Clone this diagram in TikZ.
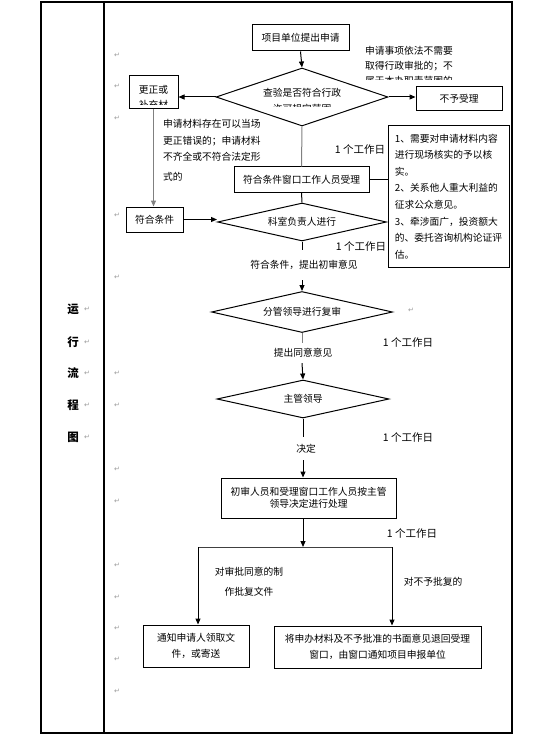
\documentclass[tikz,border=0pt]{standalone}
\usepackage{fontspec}
\setmainfont{Noto Sans CJK SC}
\newfontfamily\djv{DejaVu Sans}
\usetikzlibrary{shapes.geometric,arrows.meta}
\begin{document}
\begin{tikzpicture}[x=1pt,y=-1pt,
  every node/.style={font=\fontsize{9.75}{15}\selectfont},
  box/.style={draw, line width=1pt, inner sep=0pt, align=center},
  dia/.style={draw, diamond, aspect=3, line width=1pt, inner sep=0pt, align=center},
  txt/.style={inner sep=0pt, align=center},
  lab/.style={inner sep=0pt, font=\fontsize{10.5}{12}\selectfont},
  colchar/.style={inner sep=0pt, font=\fontsize{11.5}{12}\selectfont\bfseries},
  arr/.style={line width=1pt, -{Triangle[length=6pt,width=5pt]}},
  con/.style={line width=1pt},
  gcon/.style={line width=1pt, draw=gray},
  ret/.style={inner sep=0pt, text=gray!80, font=\djv\fontsize{7}{7}\selectfont},
]
\useasboundingbox (0,0) rectangle (554,738);

% table frame
\draw[line width=1.2pt] (41,2) rectangle (512,733);
\draw[line width=1.2pt] (104,2) -- (104,733);

% left column label
\node[colchar] (c1) at (73,309) {运};
\node[colchar] (c2) at (73,342) {行};
\node[colchar] (c3) at (73,373) {流};
\node[colchar] (c4) at (73,405) {程};
\node[colchar] (c5) at (73,437) {图};
\foreach \yy/\nm in {309/r1,342/r2,373/r3,405/r4,437/r5} \node[ret] (\nm) at (87,\yy) {↵};

% paragraph marks
\foreach \yy [count=\i] in {55,86,118,215,277,373,405,469,501,565,597,628,659,691}
  \node[ret] (p\i) at (117,\yy) {↵};
\node[ret] (pq) at (411,310) {↵};

% boxes and diamonds
\node[box, minimum width=97pt, minimum height=26pt] (b1) at (300.5,38) {项目单位提出申请};
\node[dia, minimum width=172pt, minimum height=58pt] (d1) at (302,97) {};
\begin{scope}
  \clip (220,78) rectangle (385,107);
  \node[txt, font=\fontsize{9.75}{16}\selectfont] (d1t) at (302,101) {查验是否符合行政\\许可规定范围};
\end{scope}

\node[box, minimum width=49pt, minimum height=33pt] (b2) at (153.5,92.5) {};
\begin{scope}
  \clip (130,77) rectangle (177,104.5);
  \node[txt, font=\fontsize{9.75}{15}\selectfont] (b2t) at (153.5,97.5) {更正或\\补充材};
\end{scope}

\node[box, minimum width=86pt, minimum height=24pt] (b3) at (459,99) {不予受理};

\begin{scope}
  \clip (360,38) rectangle (480,80);
  \node[txt, align=left, anchor=west, font=\fontsize{9.75}{15}\selectfont] (t1) at (365,66) {申请事项依法不需要\\取得行政审批的；不\\属于本办职责范围的};
\end{scope}

\node[box, minimum width=57pt, minimum height=25pt] (b4) at (154.5,219.5) {符合条件};
\node[txt, align=left, anchor=west, font=\fontsize{9.75}{16.5}\selectfont] (t2) at (163,150.5) {申请材料存在可以当场\\更正错误的；申请材料\\不齐全或不符合法定形\\[3.5pt]式的};

\node[box, minimum width=135pt, minimum height=25pt] (b5) at (301.5,179.5) {符合条件窗口工作人员受理};
\node[lab] (L1) at (360,150) {1 个工作日};

\node[box, minimum width=121pt, minimum height=141pt, align=left, font=\fontsize{9.75}{16.6}\selectfont] (b6) at (448.5,196.5)
  {1、需要对申请材料内容\\进行现场核实的予以核\\实。\\2、关系他人重大利益的\\征求公众意见。\\3、牵涉面广，投资额大\\的、委托咨询机构论证评\\估。};

\node[dia, minimum width=169pt, minimum height=38pt] (d2) at (302,222) {科室负责人进行};
\node[lab] (L2) at (361,246) {1 个工作日};
\node[txt, minimum height=30pt] (t3) at (304,265) {符合条件，提出初审意见};

\node[dia, minimum width=181pt, minimum height=41pt] (d3) at (302,312) {分管领导进行复审};
\node[txt, minimum height=20pt] (t4) at (303,353) {提出同意意见};
\node[lab] (L3) at (408,342) {1 个工作日};

\node[dia, minimum width=172pt, minimum height=38pt] (d4) at (303,399) {主管领导};
\node[txt, minimum height=23pt] (t5) at (306,448.5) {决定};
\node[lab] (L4) at (408,437) {1 个工作日};

\node[box, minimum width=175pt, minimum height=40pt, font=\fontsize{9.75}{12.5}\selectfont] (b7) at (308.5,498) {初审人员和受理窗口工作人员按主管\\领导决定进行处理};
\node[lab] (L5) at (412,533) {1 个工作日};

\coordinate (sm) at (303,547);
\coordinate (sl) at (198,547);
\coordinate (sr) at (392,547);

\node[txt, font=\fontsize{9.75}{20}\selectfont] (t6) at (249,582) {对审批同意的制\\作批复文件};
\node[txt] (t7) at (433,582) {对不予批复的};

\node[box, minimum width=106pt, minimum height=42pt, font=\fontsize{9.75}{16}\selectfont] (b8) at (196,646) {通知申请人领取文\\件，或寄送};
\node[box, minimum width=207pt, minimum height=42pt, font=\fontsize{9.75}{16}\selectfont] (b9) at (377.5,647) {将申办材料及不予批准的书面意见退回受理\\窗口，由窗口通知项目申报单位};

% connectors
\draw[arr] (b1.south) -- (d1.north);
\draw[arr] (d1.west) -- (d1.west -| b2.east);
\draw[arr] (d1.east) -- (d1.east -| b3.west);
\draw[gcon, arr, draw=gray] (b2.south) -- (b2.south |- b4.north);
\draw[gcon] (d1.south) -- (b5.north);
\draw[con] (b5.east) -- (b5.east -| b6.west);
\draw[con] (b5.south) -- (d2.north);
\draw[arr] (b4.east) -- (b4.east -| d2.west);
\draw[con] (d2.south) -- (d2.south |- t3.north);
\draw[arr] (d2.south |- t3.south) -- (d3.north);
\draw[gcon] (d3.south) -- (d3.south |- t4.north);
\draw[arr] (d3.south |- t4.south) -- (d4.north);
\draw[con] (d4.south) -- (d4.south |- t5.north);
\draw[arr] (d4.south |- t5.south) -- (d4.south |- b7.north);
\draw[arr] (d4.south |- b7.south) -- (sm);
\draw[con, draw=black!75] (sl) -- (sr);
\draw[arr] (sl) -- (sl |- b8.north);
\draw[arr] (sr) -- (sr |- b9.north);
\end{tikzpicture}
\end{document}
